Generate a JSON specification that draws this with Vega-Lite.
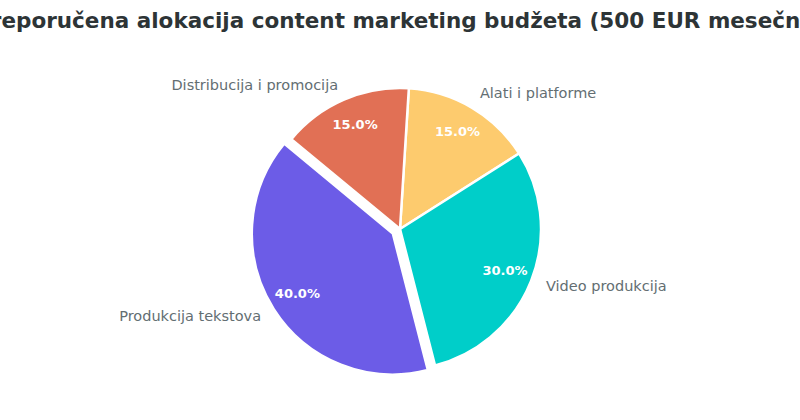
{
  "$schema": "https://vega.github.io/schema/vega-lite/v6.json",
  "autosize": "none",
  "padding": {"left": 0, "right": 0, "top": 40, "bottom": 2},
  "width": 800,
  "height": 378,
  "background": "white",
  "title": {
    "text": "Preporučena alokacija content marketing budžeta (500 EUR mesečno)",
    "font": "DejaVu Sans",
    "fontSize": 21.5,
    "fontWeight": "bold",
    "color": "#2d3436",
    "anchor": "middle",
    "baseline": "alphabetic",
    "offset": -9
  },
  "data": {
    "values": [
      {"kategorija": "Alati i platforme", "udeo": 0.15, "red": 1},
      {"kategorija": "Video produkcija", "udeo": 0.30, "red": 2},
      {"kategorija": "Produkcija tekstova", "udeo": 0.40, "red": 3},
      {"kategorija": "Distribucija i promocija", "udeo": 0.15, "red": 4}
    ]
  },
  "encoding": {
    "theta": {
      "field": "udeo",
      "type": "quantitative",
      "stack": true,
      "scale": {"range": [0.0628, 6.346]}
    },
    "order": {"field": "red", "type": "quantitative"},
    "color": {
      "field": "kategorija",
      "type": "nominal",
      "legend": null,
      "scale": {
        "domain": ["Produkcija tekstova", "Video produkcija", "Distribucija i promocija", "Alati i platforme"],
        "range": ["#6c5ce7", "#00cec9", "#e17055", "#fdcb6e"]
      }
    }
  },
  "layer": [
    {
      "mark": {"type": "arc", "outerRadius": 141, "stroke": "white", "strokeWidth": 2.5},
      "encoding": {
        "opacity": {"condition": {"test": "datum.kategorija === 'Produkcija tekstova'", "value": 0}, "value": 1}
      }
    },
    {
      "mark": {"type": "arc", "outerRadius": 141, "stroke": "white", "strokeWidth": 2.5, "xOffset": -7.2, "yOffset": 4.5},
      "encoding": {
        "opacity": {"condition": {"test": "datum.kategorija === 'Produkcija tekstova'", "value": 1}, "value": 0}
      }
    },
    {
      "mark": {"type": "text", "radius": 113, "baseline": "middle", "font": "DejaVu Sans", "fontSize": 13, "fontWeight": "bold"},
      "encoding": {
        "color": {"value": "white"},
        "text": {
          "condition": {"test": "datum.kategorija !== 'Produkcija tekstova'", "field": "udeo", "format": ".1%"},
          "value": ""
        }
      }
    },
    {
      "mark": {"type": "text", "radius": 113, "baseline": "middle", "font": "DejaVu Sans", "fontSize": 13, "fontWeight": "bold", "xOffset": -7.2, "yOffset": 4.5},
      "encoding": {
        "color": {"value": "white"},
        "text": {
          "condition": {"test": "datum.kategorija === 'Produkcija tekstova'", "field": "udeo", "format": ".1%"},
          "value": ""
        }
      }
    },
    {
      "mark": {"type": "text", "radius": 157, "align": "left", "baseline": "middle", "font": "DejaVu Sans", "fontSize": 14.5},
      "encoding": {
        "color": {"value": "#636e72"},
        "text": {
          "condition": {"test": "datum.kategorija === 'Alati i platforme' || datum.kategorija === 'Video produkcija'", "field": "kategorija"},
          "value": ""
        }
      }
    },
    {
      "mark": {"type": "text", "radius": 156, "align": "right", "baseline": "middle", "font": "DejaVu Sans", "fontSize": 14.5},
      "encoding": {
        "color": {"value": "#636e72"},
        "text": {
          "condition": {"test": "datum.kategorija === 'Distribucija i promocija'", "field": "kategorija"},
          "value": ""
        }
      }
    },
    {
      "mark": {"type": "text", "radius": 156, "align": "right", "baseline": "middle", "font": "DejaVu Sans", "fontSize": 14.5, "xOffset": -7.2, "yOffset": 4.5},
      "encoding": {
        "color": {"value": "#636e72"},
        "text": {
          "condition": {"test": "datum.kategorija === 'Produkcija tekstova'", "field": "kategorija"},
          "value": ""
        }
      }
    }
  ]
}
